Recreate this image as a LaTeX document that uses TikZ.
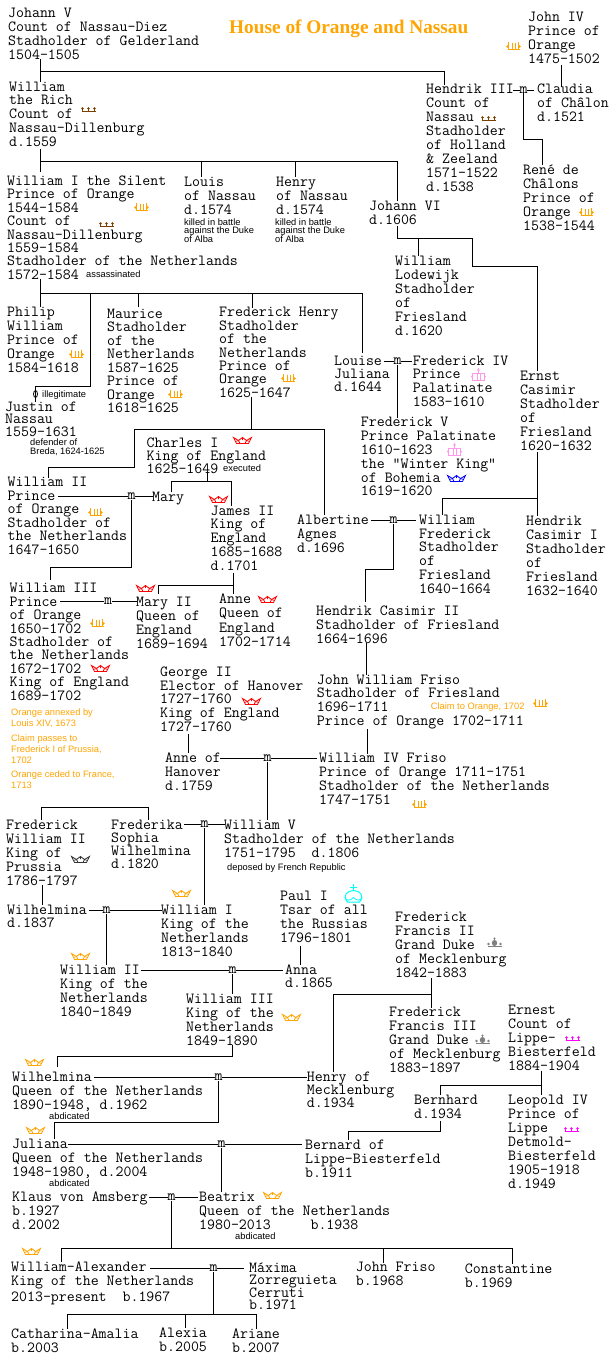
\documentclass[tikz,border=0pt]{standalone}
\usepackage{fontspec}
\newfontfamily\notefont{Liberation Sans}
\newfontfamily\titlefont{Liberation Serif}
\definecolor{orangec}{HTML}{FFA500}
\definecolor{brownc}{HTML}{7B3F00}
\definecolor{grayc}{HTML}{808080}
\definecolor{magc}{HTML}{FF00FF}
\definecolor{pinkc}{HTML}{FF99F0}
\definecolor{redc}{HTML}{FF0000}
\definecolor{bluec}{HTML}{0000FF}
\definecolor{cyanc}{HTML}{00FFFF}
\definecolor{darkc}{HTML}{333333}
\lineskiplimit=-20pt
\tikzset{
  per/.style={anchor=north west,inner sep=0pt,align=left,font=\fontsize{15.45}{#1}\ttfamily\selectfont},
  per/.default=14,
  wed/.style={inner sep=0pt,font=\fontsize{15.45}{14}\ttfamily\selectfont},
  note/.style={anchor=base west,inner sep=0pt,font=\notefont\fontsize{9.3}{9}\selectfont},
  notes/.style={anchor=north west,inner sep=0pt,align=left,font=\notefont\fontsize{9.3}{#1}\selectfont},
  link/.style={draw=black,line width=1pt,line cap=rect},
  pics/princecrown/.style={code={
    \draw[orangec,line width=.9pt] (1.5,8.5) -- (13.5,8.5);
    \draw[orangec,line width=.9pt] (2.5,1) -- (2.5,8.5) (6,1.5) -- (6,8.5) (9,1.5) -- (9,8.5) (12.5,1) -- (12.5,8.5);
    \fill[orangec] (1.5,5.5) circle (1.3) (13.5,5.5) circle (1.3);
  }},
  pics/lowcrown/.style={code={
    \draw[#1,line width=.9pt] (0.5,4.5) -- (14.5,4.5) (1.5,2) -- (1.5,4.5) (7.5,2) -- (7.5,4.5) (13.5,2) -- (13.5,4.5);
    \fill[#1] (1.5,1.5) circle (1.3) (7.5,1.5) circle (1.3) (13.5,1.5) circle (1.3);
  }},
  pics/grandcrown/.style={code={
    \draw[grayc,line width=1pt] (0.5,9.5) -- (14.5,9.5) (7.5,0.5) -- (7.5,9);
    \fill[grayc] (7.5,6) ellipse (2.7 and 3) (1.5,7) circle (1.3) (13.5,7) circle (1.3) (7.5,1.5) circle (1.2);
  }},
  pics/electcrown/.style={code={
    \draw[pinkc,line width=1pt] (7.5,0) -- (7.5,4.5) (1.5,12.5) -- (1.5,5) -- (13.5,5) -- (13.5,12.5) -- cycle (6,5) -- (6,12.5) (9,5) -- (9,12.5);
    \fill[pinkc] (7.5,2) circle (1.3) (1,8.5) circle (1.2) (14,8.5) circle (1.2);
  }},
  pics/zigcrown/.style={code={
    \draw[#1,line width=.85pt,line join=miter] (0.5,0.5) -- (3.5,6.5) -- (15.5,6.5) -- (18.5,0.5) -- (13.5,3.5) -- (9.5,0.5) -- (5.5,3.5) -- cycle;
    \draw[#1,line width=.7pt] (2.5,4.5) -- (5.5,3.5) -- (7,6.5) (16.5,4.5) -- (13.5,3.5) -- (12,6.5) (9.5,0.5) -- (9.5,3);
  }},
  pics/orbcrown/.style={code={
    \draw[cyanc,line width=1pt] (9.5,0) -- (9.5,7) (6,3.5) -- (13,3.5);
    \draw[cyanc,line width=1pt] (3.5,18) .. controls (-2,12) and (3,6.5) .. (9.5,6.5) .. controls (16,6.5) and (21,12) .. (15.5,18) -- cycle;
    \draw[cyanc,line width=.8pt] (0.8,13.5) .. controls (3,17) and (6,17) .. (9.5,13.5) .. controls (13,17) and (16,17) .. (18.2,13.5);
  }},
}
\begin{document}
\begin{tikzpicture}[x=1pt,y=-1pt]
\useasboundingbox (0,0) rectangle (610,1368);
\fill[white] (0,0) rectangle (610,1368);

% title
\node[anchor=base west,inner sep=0pt,text=orangec,font=\titlefont\bfseries\fontsize{19.3}{20}\selectfont] (title) at (229,33) {House of Orange and Nassau};

% people
\node[per] (johann) at (8,7.6) {Johann V\\Count of Nassau-Diez\\Stadholder of Gelderland\\1504-1505};
\node[per=13.7] (rich) at (9,81.6) {William\\the Rich\\Count of\\Nassau-Dillenburg\\d.1559};
\node[per=13.4] (silent) at (7,175.6) {William I the Silent\\Prince of Orange\\1544-1584\\Count of\\Nassau-Dillenburg\\1559-1584\\Stadholder of the Netherlands\\1572-1584};
\node[per] (louis) at (184,176.4) {Louis\\of Nassau\\d.1574};
\node[per] (henry) at (276,176.4) {Henry\\of Nassau\\d.1574};
\node[per] (johannvi) at (369,200.6) {Johann VI\\d.1606};
\node[per] (hendrik) at (426,84.1) {Hendrik III\\Count of\\Nassau\\Stadholder\\of Holland\\\& Zeeland\\1571-1522\\d.1538};
\node[per] (johniv) at (528,11.6) {John IV\\Prince of\\Orange\\1475-1502};
\node[per] (claudia) at (537,84.1) {Claudia\\of Châlon\\d.1521};
\node[per] (rene) at (523,164.6) {René de\\Châlons\\Prince of\\Orange\\1538-1544};
\node[per] (lodewijk) at (395,255.6) {William\\Lodewijk\\Stadholder\\of\\Friesland\\d.1620};
\node[per] (philip) at (7,306.6) {Philip\\William\\Prince of\\Orange\\1584-1618};
\node[per=13.5] (maurice) at (107,308.6) {Maurice\\Stadholder\\of the\\Netherlands\\1587-1625\\Prince of\\Orange\\1618-1625};
\node[per=13.4] (fredhenry) at (219,307.3) {Frederick Henry\\Stadholder\\of the\\Netherlands\\Prince of\\Orange\\1625-1647};
\node[per=12.5] (justin) at (5,401.6) {Justin of\\Nassau\\1559-1631};
\node[per=13] (charles) at (146.5,437.3) {Charles I\\King of England\\1625-1649};
\node[per=13.5] (wii) at (7.5,477.3) {William II\\Prince\\of Orange\\Stadholder of\\the Netherlands\\1647-1650};
\node[per] (mary) at (152,491.6) {Mary};
\node[per=13.75] (james) at (210.5,505.6) {James II\\King of\\England\\1685-1688\\d.1701};
\node[per=13] (louise) at (334,355.6) {Louise\\Juliana\\d.1644};
\node[per=13.7] (frediv) at (412.7,355.6) {Frederick IV\\Prince\\Palatinate\\1583-1610};
\node[per=13.8] (fredv) at (360.7,417.3) {Frederick V\\Prince Palatinate\\1610-1623\\the "Winter King"\\of Bohemia\\1619-1620};
\node[per] (ernst) at (520,370.6) {Ernst\\Casimir\\Stadholder\\of\\Friesland\\1620-1632};
\node[per] (albertine) at (297,514.6) {Albertine\\Agnes\\d.1696};
\node[per=13.8] (wfred) at (419,514.6) {William\\Frederick\\Stadholder\\of\\Friesland\\1640-1664};
\node[per] (hcone) at (526,515.6) {Hendrik\\Casimir I\\Stadholder\\of\\Friesland\\1632-1640};
\node[per] (hctwo) at (316,605.6) {Hendrik Casimir II\\Stadholder of Friesland\\1664-1696};
\node[per=13.4] (wiii) at (9.5,583.3) {William III\\Prince\\of Orange\\1650-1702\\Stadholder of\\the Netherlands\\1672-1702\\King of England\\1689-1702};
\node[per] (maryii) at (136,596.6) {Mary II\\Queen of\\England\\1689-1694};
\node[per=14.4] (anne) at (219,593.6) {Anne\\Queen of\\England\\1702-1714};
\node[per=13.7] (george) at (160,666.6) {George II\\Elector of Hanover\\1727-1760\\King of England\\1727-1760};
\node[per] (anneh) at (165,752.6) {Anne of\\Hanover\\d.1759};
\node[per=13.7] (jwf) at (316.7,674.6) {John William Friso\\Stadholder of Friesland\\1696-1711\\Prince of Orange 1702-1711};
\node[per] (wiv) at (319,753.3) {William IV Friso\\Prince of Orange 1711-1751\\Stadholder of the Netherlands\\1747-1751};
\node[per] (fwii) at (6,819.6) {Frederick\\William II\\King of\\Prussia\\1786-1797};
\node[per=13] (frederika) at (111,819.6) {Frederika\\Sophia\\Wilhelmina\\d.1820};
\node[per] (wv) at (224,819.6) {William V\\Stadholder of the Netherlands\\1751-1795~~d.1806};
\node[per=13] (wilhone) at (7,904.6) {Wilhelmina\\d.1837};
\node[per] (wi) at (161,904.6) {William I\\King of the\\Netherlands\\1813-1840};
\node[per] (paul) at (280,891.3) {Paul I\\Tsar of all\\the Russias\\1796-1801};
\node[per=13] (anna) at (285,964.6) {Anna\\d.1865};
\node[per] (wiitwo) at (60,964.6) {William II\\King of the\\Netherlands\\1840-1849};
\node[per] (wiiitwo) at (186,993.6) {William III\\King of the\\Netherlands\\1849-1890};
\node[per] (fftwo) at (395,912.3) {Frederick\\Francis II\\Grand Duke\\of Mecklenburg\\1842-1883};
\node[per] (ffthree) at (389,1007.3) {Frederick\\Francis III\\Grand Duke\\of Mecklenburg\\1883-1897};
\node[per] (ernest) at (508,1005.3) {Ernest\\Count of\\Lippe-\\Biesterfeld\\1884-1904};
\node[per=13.3] (henrym) at (306.7,1071.6) {Henry of\\Mecklenburg\\d.1934};
\node[per] (wilhtwo) at (12,1071.6) {Wilhelmina\\Queen of the Netherlands\\1890-1948, d.1962};
\node[per] (bernhard) at (414,1094.6) {Bernhard\\d.1934};
\node[per] (leopold) at (508,1094.6) {Leopold IV\\Prince of\\Lippe\\Detmold-\\Biesterfeld\\1905-1918\\d.1949};
\node[per] (juliana) at (12,1138.6) {Juliana\\Queen of the Netherlands\\1948-1980, d.2004};
\node[per] (bernard) at (305,1139.3) {Bernard of\\Lippe-Biesterfeld\\b.1911};
\node[per] (klaus) at (12,1191.6) {Klaus von Amsberg\\b.1927\\d.2002};
\node[per] (beatrix) at (199,1191.6) {Beatrix\\Queen of the Netherlands\\1980-2013~~~~~b.1938};
\node[per] (walex) at (11,1261.6) {William-Alexander\\King of the Netherlands\\[2pt]2013-present~~b.1967};
\node[per=12.6] (maxima) at (249,1262.3) {Máxima\\Zorreguieta\\Cerruti\\b.1971};
\node[per] (jfriso) at (355.7,1262.3) {John Friso\\b.1968};
\node[per] (constantine) at (464.7,1263.6) {Constantine\\b.1969};
\node[per] (catharina) at (11,1328.3) {Catharina-Amalia\\b.2003};
\node[per=13.7] (alexia) at (159,1327.6) {Alexia\\b.2005};
\node[per] (ariane) at (232,1328.6) {Ariane\\b.2007};

% small notes
\node[note] (nassass) at (86,277.7) {assassinated};
\node[notes=8.7] (nlouis) at (184,218.3) {killed in battle\\against the Duke\\of Alba};
\node[notes=8.7] (nhenry) at (275,218.3) {killed in battle\\against the Duke\\of Alba};
\node[note] (nillegit) at (42,397.6) {illegitimate};
\node[notes=9.6] (nbreda) at (30,438.3) {defender of\\Breda, 1624-1625};
\node[note] (nexec) at (223,471.7) {executed};
\node[note] (ndeposed) at (227,870.7) {deposed by French Republic};
\node[note] (nabdone) at (49,1119) {abdicated};
\node[note] (nabdtwo) at (49,1186.7) {abdicated};
\node[note] (nabdthree) at (235,1239) {abdicated};
\node[notes=11,text=orangec] (norangeone) at (11,708.4) {Orange annexed by\\Louis XIV, 1673};
\node[notes=11,text=orangec] (norangetwo) at (11,734.4) {Claim passes to\\Frederick I of Prussia,\\1702};
\node[notes=11,text=orangec] (norangethree) at (11,770.4) {Orange ceded to France,\\1713};
\node[note,text=orangec] (nclaim) at (430.7,709) {Claim to Orange, 1702};

% marriage marks
\node[wed] (mhendrik) at (523.5,90) {m};
\node[wed] (mlouise) at (397.5,361.5) {m};
\node[wed] (mwii) at (131.5,496.5) {m};
\node[wed] (mwiii) at (108,601.5) {m};
\node[wed] (malb) at (393.5,520.5) {m};
\node[wed] (manne) at (267.5,758.5) {m};
\node[wed] (mfred) at (204.5,824.5) {m};
\node[wed] (mwilhone) at (106.5,910.5) {m};
\node[wed] (mwiitwo) at (232.5,970.5) {m};
\node[wed] (mwilhtwo) at (218.5,1077.5) {m};
\node[wed] (mjul) at (221.5,1144.5) {m};
\node[wed] (mbea) at (171.5,1197.5) {m};
\node[wed] (mwa) at (213.5,1268.5) {m};

% junction points
\coordinate (ja) at (40.5,71.5);
\coordinate (ra) at (40.5,161.5);
\coordinate (rl) at (201.5,161.5);
\coordinate (rh) at (295.5,161.5);
\coordinate (jva) at (472.5,238.5);
\coordinate (jvb) at (537.5,266.5);
\coordinate (jvl) at (418.5,238.5);
\coordinate (hm) at (542.5,139.5);
\coordinate (sa) at (40.5,293.5);
\coordinate (sp) at (90.5,293.5);
\coordinate (sj) at (35.5,386.5);
\coordinate (sm) at (138.5,293.5);
\coordinate (sf) at (252.5,293.5);
\coordinate (fa) at (251.5,429.5);
\coordinate (fb) at (134.5,467.5);
\coordinate (fc) at (324.5,429.5);
\coordinate (wa) at (50.5,567.5);
\coordinate (ca) at (207.5,481.5);
\coordinate (ja2) at (233.5,585.5);
\coordinate (ma) at (365.5,569.5);
\coordinate (ea) at (537.5,498.5);
\coordinate (fwa) at (148.5,807.5);
\coordinate (wb) at (57.5,1056.5);
\coordinate (wc) at (54.5,1122.5);
\coordinate (ffa) at (431.5,994.5);
\coordinate (era) at (541.5,1085.5);
\coordinate (bna) at (348.5,1131.5);
\coordinate (ba) at (171.5,1248.5);
\coordinate (bf) at (383.5,1248.5);
\coordinate (ab) at (213.5,1314.5);
\coordinate (al) at (185.5,1314.5);

% connectors
\draw[link] (johann.south -| 40.5,0) -- (rich.north -| 40.5,0);
\draw[link] (ja) -| (hendrik.north -| 444.5,0);
\draw[link] ([yshift=-3pt]rich.south -| 40.5,0) -- ([yshift=4pt]silent.north -| 40.5,0);
\draw[link] (ra) -| (johannvi.north -| 397.5,0);
\draw[link] (rl) -- (louis.north -| rl);
\draw[link] (rh) -- (henry.north -| rh);
\draw[link] ([yshift=-2pt]johannvi.south -| 397.5,0) |- (jva) |- (jvb) -- (ernst.north -| jvb);
\draw[link] (jvl) -- (lodewijk.north -| jvl);
\draw[link] (mhendrik.west) -- (mhendrik.west -| hendrik.east);
\draw[link] (mhendrik.east) -- (mhendrik.east -| 533,0);
\draw[link] (mhendrik.south) |- (hm) -- (rene.north -| hm);
\draw[link] ([yshift=-2pt]johniv.south -| 561.5,0) -- ([yshift=-2pt]claudia.north -| 561.5,0);
\draw[link] (silent.south -| sa) -- (philip.north -| sa);
\draw[link] (sa) -| ([yshift=3pt]louise.north -| 362.5,0);
\draw[link] (sp) |- (sj) -- (justin.north -| sj);
\draw[black,line width=.8pt] (35.5,394) ellipse (2 and 3.5);
\draw[link] (sm) -- ([yshift=2pt]maurice.north -| sm);
\draw[link] (sf) -- (fredhenry.north -| sf);
\draw[link] (mlouise.west) -- (mlouise.west -| 384,0);
\draw[link] (mlouise.east) -- (mlouise.east -| 411,0);
\draw[link] (mlouise.south) -- (fredv.north -| mlouise.south);
\draw[link] (fredhenry.south -| fa) -- (fa);
\draw[link] (wii.north -| 48.5,0) |- (fb) |- (fc) -- (albertine.north -| fc);
\draw[link] (mwii.west) -- (mwii.west -| 58,0);
\draw[link] (mwii.east) -- (mwii.east -| mary.west);
\draw[link] (mwii.south) |- (wa) -- ([yshift=4pt]wiii.north -| wa);
\draw[link] (charles.south -| ca) -- (ca);
\draw[link] (mary.north -| 171.5,0) |- (ca) -| (james.north -| 231.5,0);
\draw[link] ([yshift=-3pt]james.south -| ja2) -- (anne.north -| ja2);
\draw[link] (ja2) -| ([yshift=3pt]maryii.north -| 158.5,0);
\draw[link] (mwiii.west) -- (mwiii.west -| 60,0);
\draw[link] (mwiii.east) -- (mwiii.east -| maryii.west);
\draw[link] (malb.west) -- (malb.west -| 371,0);
\draw[link] (malb.east) -- (malb.east -| 415,0);
\draw[link] (malb.south) |- (ma) -- ([yshift=4pt]hctwo.north -| ma);
\draw[link] ([yshift=-2pt]ernst.south -| ea) -- (hcone.north -| ea);
\draw[link] (ea) -| (wfred.north -| 442.5,0);
\draw[link] (hctwo.south -| 366.5,0) -- (jwf.north -| 366.5,0);
\draw[link] (jwf.south -| 367.5,0) -- (wiv.north -| 367.5,0);
\draw[link] ([yshift=-3pt]george.south -| 188.5,0) -- (anneh.north -| 188.5,0);
\draw[link] (manne.west) -- (manne.west -| 220,0);
\draw[link] (manne.east) -- (manne.east -| 316.7,0);
\draw[link] (manne.south) -- (wv.north -| manne.south);
\draw[link] (fwii.north -| 41.5,0) |- (fwa) -- (frederika.north -| fwa);
\draw[link] (mfred.west) -- (mfred.west -| 184,0);
\draw[link] (mfred.east) -- (mfred.east -| wv.west);
\draw[link] (mfred.south) -- (wi.north -| mfred.south);
\draw[link] (fwii.south -| 42.5,0) -- (wilhone.north -| 42.5,0);
\draw[link] (mwilhone.west) -- (mwilhone.west -| 89,0);
\draw[link] (mwilhone.east) -- (mwilhone.east -| wi.west);
\draw[link] (mwilhone.south) -- (wiitwo.north -| mwilhone.south);
\draw[link] ([yshift=-3pt]paul.south -| 300.5,0) -- (anna.north -| 300.5,0);
\draw[link] (mwiitwo.west) -- (mwiitwo.west -| 141,0);
\draw[link] (mwiitwo.east) -- (mwiitwo.east -| 282,0);
\draw[link] (mwiitwo.south) -- (wiiitwo.north -| mwiitwo.south);
\draw[link] (wiiitwo.south -| 232.5,0) |- (wb) -- ([yshift=5pt]wilhtwo.north -| wb);
\draw[link] (mwilhtwo.west) -- (mwilhtwo.west -| 94,0);
\draw[link] (mwilhtwo.east) -- (mwilhtwo.east -| henrym.west);
\draw[link] (mwilhtwo.south) |- (wc) -- (juliana.north -| wc);
\draw[link] (fftwo.south -| ffa) -- (ffthree.north -| ffa);
\draw[link] (ffa) -| (henrym.north -| 333.5,0);
\draw[link] (ernest.south -| era) -- (leopold.north -| era);
\draw[link] (era) -| (bernhard.north -| 440.5,0);
\draw[link] ([yshift=-3pt]bernhard.south -| 440.5,0) |- (bna) -- (bernard.north -| bna);
\draw[link] (mjul.west) -- (mjul.west -| 68,0);
\draw[link] (mjul.east) -- (mjul.east -| 301,0);
\draw[link] (mjul.south) -- (beatrix.north -| mjul.south);
\draw[link] (mbea.west) -- (mbea.west -| 149,0);
\draw[link] (mbea.east) -- (mbea.east -| 197,0);
\draw[link] (mbea.south) -- (ba);
\draw[link] (walex.north -| 61.5,0) |- (bf) -| (constantine.north -| 512.5,0);
\draw[link] (bf) -- (jfriso.north -| bf);
\draw[link] (mwa.west) -- (mwa.west -| 150,0);
\draw[link] (mwa.east) -- (mwa.east -| 243.7,0);
\draw[link] (mwa.south) -- (ab);
\draw[link] (catharina.north -| 67.5,0) |- (al) -| (ariane.north -| 256.5,0);
\draw[link] (al) -- (alexia.north -| al);

% crowns
\pic at (506,41) {princecrown};
\pic at (134,202) {princecrown};
\pic at (579,207) {princecrown};
\pic at (69,349) {princecrown};
\pic at (168,389) {princecrown};
\pic at (281,373) {princecrown};
\pic at (88,507) {princecrown};
\pic at (90,618) {princecrown};
\pic at (533,698) {princecrown};
\pic at (412,799) {princecrown};
\pic at (81,107) {lowcrown=brownc};
\pic at (99,222) {lowcrown=brownc};
\pic at (481,116) {lowcrown=brownc};
\pic at (565,1036) {lowcrown=magc};
\pic at (564,1127) {lowcrown=magc};
\pic at (487,937) {grandcrown};
\pic at (475,1034) {grandcrown};
\pic at (471,368) {electcrown};
\pic at (447,443) {electcrown};
\pic at (447,475) {zigcrown=bluec};
\pic at (233,437) {zigcrown=redc};
\pic at (209,496) {zigcrown=redc};
\pic at (136,585) {zigcrown=redc};
\pic at (258,596) {zigcrown=redc};
\pic at (91,665) {zigcrown=redc};
\pic at (242,698) {zigcrown=redc};
\pic at (71,856) {zigcrown=darkc};
\pic at (172,890) {zigcrown=orangec};
\pic at (71,953) {zigcrown=orangec};
\pic at (282,1014) {zigcrown=orangec};
\pic at (25,1059) {zigcrown=orangec};
\pic at (26,1127) {zigcrown=orangec};
\pic at (263,1192) {zigcrown=orangec};
\pic at (22,1248) {zigcrown=orangec};
\pic at (344,884) {orbcrown};
\end{tikzpicture}
\end{document}
